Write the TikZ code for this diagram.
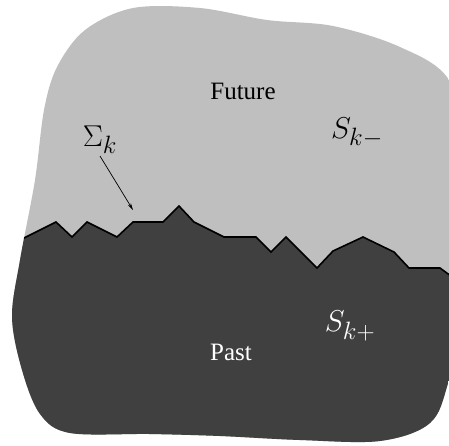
\documentclass[tikz,border=0pt]{standalone}
\usepackage{fontspec}
\setmainfont{Liberation Serif}
\usetikzlibrary{arrows.meta}
\definecolor{futurecol}{RGB}{191,191,191}
\definecolor{pastcol}{RGB}{64,64,64}
\newcommand{\bigsym}[1]{\scalebox{1.21}{\Huge$#1$}}

\begin{document}
\begin{tikzpicture}[
  x=1pt, y=-1pt,
  word/.style={font=\fontsize{25}{30}\selectfont, inner sep=2pt},
  symb/.style={inner sep=2pt},
  front/.style={line width=1.6pt, draw=black},
  pointer/.style={-{Stealth[length=7pt, width=3.5pt]}, line width=0.7pt}
]
  \useasboundingbox (0,0) rectangle (449,445);

  % the region, future above the front and past below it
  \begin{scope}
    \clip plot[smooth cycle, tension=0.55] coordinates {
      (133,8) (200,8) (267,20) (333,26) (400,47) (449,80) (472,160)
      (474,280) (449,380) (430,423) (380,441) (300,440) (220,436)
      (150,434) (70,433) (40,414) (22,370) (12,317) (20,260) (35,180)
      (44,110) (57,67) (85,30)};
    \fill[futurecol] (-20,-20) rectangle (520,480);
    \path[front, fill=pastcol] (10,245) -- (56,222) -- (72,237) -- (87,222)
      -- (117,237) -- (133,222) -- (163,222) -- (179,206) -- (194,222)
      -- (224,237) -- (256,237) -- (271,252) -- (286,237) -- (317,268)
      -- (333,251) -- (363,237) -- (394,252) -- (409,268) -- (440,268)
      -- (470,290) -- (520,290) -- (520,480) -- (-20,480) -- (-20,245)
      -- cycle;
  \end{scope}

  \node[word] (future) at (243,91) {Future};
  \node[word, text=white] (past) at (231,352) {Past};
  \node[symb] (skminus) at (357,133) {\bigsym{S_{k-}}};
  \node[symb, text=white] (skplus) at (350,326) {\bigsym{S_{k+}}};

  \node[symb] (sig) at (100,140) {\bigsym{\Sigma_k}};
  \coordinate (sigtip) at (133,210);
  \draw[pointer] (sig.south) -- (sigtip);
\end{tikzpicture}
\end{document}
